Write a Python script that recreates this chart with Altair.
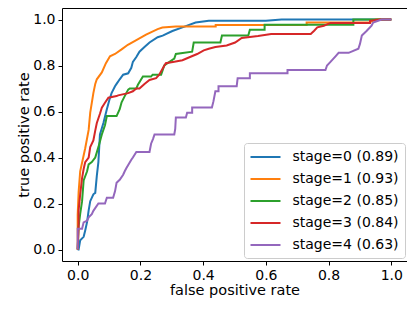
import altair as alt
import pandas as pd

labels = ["stage=0 (0.89)", "stage=1 (0.93)", "stage=2 (0.85)", "stage=3 (0.84)", "stage=4 (0.63)"]
colors = ["#1f77b4", "#ff7f0e", "#2ca02c", "#d62728", "#9467bd"]

fpr0 = [0, 0.003, 0.008, 0.019, 0.024, 0.03, 0.035, 0.04, 0.05, 0.056, 0.061, 0.066, 0.071, 0.082, 0.093, 0.101, 0.108, 0.119, 0.124, 0.134, 0.145, 0.161, 0.171, 0.176, 0.187, 0.197, 0.213, 0.229, 0.255, 0.271, 0.302, 0.334, 0.376, 0.418, 0.6, 0.65, 1.0]
tpr0 = [0, 0.0, 0.04, 0.055, 0.083, 0.12, 0.17, 0.21, 0.24, 0.246, 0.32, 0.38, 0.5, 0.55, 0.61, 0.65, 0.68, 0.71, 0.72, 0.74, 0.76, 0.766, 0.79, 0.816, 0.837, 0.86, 0.88, 0.9, 0.923, 0.93, 0.95, 0.966, 0.987, 0.995, 0.995, 1.0, 1.0]

fpr1 = [0, 0, 0.003, 0.008, 0.024, 0.035, 0.04, 0.05, 0.056, 0.061, 0.077, 0.09, 0.103, 0.119, 0.14, 0.16, 0.187, 0.218, 0.255, 0.27, 0.313, 0.44, 0.44, 0.73, 0.73, 0.93, 0.95, 1.0]
tpr1 = [0, 0.15, 0.25, 0.34, 0.44, 0.52, 0.595, 0.68, 0.72, 0.74, 0.77, 0.81, 0.84, 0.85, 0.87, 0.89, 0.91, 0.934, 0.958, 0.965, 0.97, 0.97, 0.976, 0.976, 0.987, 0.987, 1.0, 1.0]

fpr2 = [0, 0.003, 0.008, 0.014, 0.019, 0.03, 0.035, 0.045, 0.056, 0.066, 0.077, 0.087, 0.093, 0.124, 0.134, 0.14, 0.15, 0.161, 0.166, 0.187, 0.192, 0.208, 0.234, 0.239, 0.266, 0.271, 0.276, 0.308, 0.313, 0.365, 0.37, 0.455, 0.46, 0.544, 0.549, 0.596, 0.596, 0.879, 0.879, 1.0]
tpr2 = [0, 0.1, 0.155, 0.21, 0.3, 0.34, 0.37, 0.38, 0.4, 0.445, 0.5, 0.54, 0.58, 0.58, 0.61, 0.64, 0.667, 0.695, 0.7, 0.7, 0.716, 0.752, 0.752, 0.76, 0.76, 0.78, 0.8, 0.83, 0.85, 0.86, 0.9, 0.9, 0.93, 0.93, 0.955, 0.955, 0.977, 0.977, 1.0, 1.0]

fpr3 = [0, 0.003, 0.003, 0.008, 0.014, 0.019, 0.024, 0.035, 0.04, 0.05, 0.056, 0.061, 0.071, 0.077, 0.087, 0.098, 0.124, 0.129, 0.161, 0.176, 0.187, 0.197, 0.213, 0.229, 0.25, 0.26, 0.271, 0.281, 0.308, 0.334, 0.36, 0.381, 0.402, 0.418, 0.439, 0.475, 0.502, 0.523, 0.575, 0.617, 0.743, 0.754, 0.764, 0.785, 0.806, 0.932, 0.932, 0.963, 1.0]
tpr3 = [0, 0.1, 0.17, 0.24, 0.31, 0.35, 0.38, 0.4, 0.445, 0.474, 0.517, 0.55, 0.59, 0.617, 0.638, 0.66, 0.667, 0.67, 0.68, 0.688, 0.7, 0.7, 0.72, 0.737, 0.745, 0.76, 0.787, 0.81, 0.816, 0.823, 0.838, 0.85, 0.866, 0.873, 0.88, 0.887, 0.9, 0.92, 0.928, 0.937, 0.937, 0.951, 0.966, 0.973, 0.985, 0.985, 0.994, 1.0, 1.0]

fpr4 = [0, 0, 0.014, 0.019, 0.03, 0.035, 0.045, 0.05, 0.066, 0.087, 0.093, 0.113, 0.119, 0.124, 0.134, 0.145, 0.15, 0.155, 0.171, 0.176, 0.187, 0.229, 0.234, 0.24, 0.245, 0.308, 0.311, 0.313, 0.345, 0.349, 0.365, 0.365, 0.428, 0.433, 0.439, 0.449, 0.449, 0.507, 0.51, 0.549, 0.549, 0.669, 0.669, 0.79, 0.795, 0.806, 0.822, 0.832, 0.864, 0.895, 0.9, 0.906, 0.921, 0.937, 0.942, 0.969, 1.0]
tpr4 = [0, 0.09, 0.09, 0.118, 0.125, 0.14, 0.154, 0.168, 0.2, 0.2, 0.225, 0.225, 0.253, 0.29, 0.303, 0.325, 0.34, 0.353, 0.39, 0.4, 0.424, 0.424, 0.46, 0.48, 0.5, 0.5, 0.524, 0.574, 0.574, 0.595, 0.595, 0.617, 0.617, 0.645, 0.688, 0.688, 0.71, 0.71, 0.745, 0.745, 0.766, 0.766, 0.78, 0.78, 0.8, 0.816, 0.84, 0.855, 0.855, 0.873, 0.894, 0.93, 0.95, 0.973, 0.987, 1.0, 1.0]

ticks = [0.0, 0.2, 0.4, 0.6, 0.8, 1.0]

rows = []
for lab, fx, ty in zip(labels, [fpr0, fpr1, fpr2, fpr3, fpr4], [tpr0, tpr1, tpr2, tpr3, tpr4]):
    for i, (a, b) in enumerate(zip(fx, ty)):
        rows.append({"series": lab, "idx": i, "fpr": a, "tpr": b})
df = pd.DataFrame(rows)

FONT = "DejaVu Sans"

chart = alt.Chart(df).mark_line(strokeWidth=2, interpolate="linear").encode(
    x=alt.X("fpr:Q", title="false positive rate",
            scale=alt.Scale(domain=[-0.05, 1.05], nice=False, zero=False),
            axis=alt.Axis(values=ticks, format=".1f", grid=False, domain=False,
                          tickColor="black", tickSize=4, tickWidth=1,
                          labelPadding=3, titlePadding=1, labelFlush=False)),
    y=alt.Y("tpr:Q", title="true positive rate",
            scale=alt.Scale(domain=[-0.05, 1.05], nice=False, zero=False),
            axis=alt.Axis(values=ticks, format=".1f", grid=False, domain=False,
                          tickColor="black", tickSize=4, tickWidth=1,
                          labelPadding=3, titlePadding=1, labelFlush=False)),
    color=alt.Color("series:N",
                    scale=alt.Scale(domain=labels, range=colors),
                    legend=alt.Legend(title=None, orient="none", legendX=182, legendY=135,
                                      symbolType="M-1,0H3", symbolSize=225, symbolStrokeWidth=2,
                                      labelOffset=26, rowPadding=6, padding=5.5,
                                      strokeColor="#cccccc", fillColor="white", cornerRadius=3,
                                      labelFontSize=14, labelFont=FONT, labelColor="black")),
    order="idx:Q",
).properties(
    width=345, height=253,
    autosize=alt.AutoSizeParams(type="none"),
    padding={"left": 54, "top": 0, "right": 0, "bottom": 45},
).configure_view(
    stroke="black", strokeWidth=1
).configure_axis(
    labelFont=FONT, titleFont=FONT, labelFontSize=14, titleFontSize=14.5,
    labelColor="black", titleColor="black", titleFontWeight="normal"
)

chart.save("out.html", embed_options={"renderer": "svg", "actions": False})
